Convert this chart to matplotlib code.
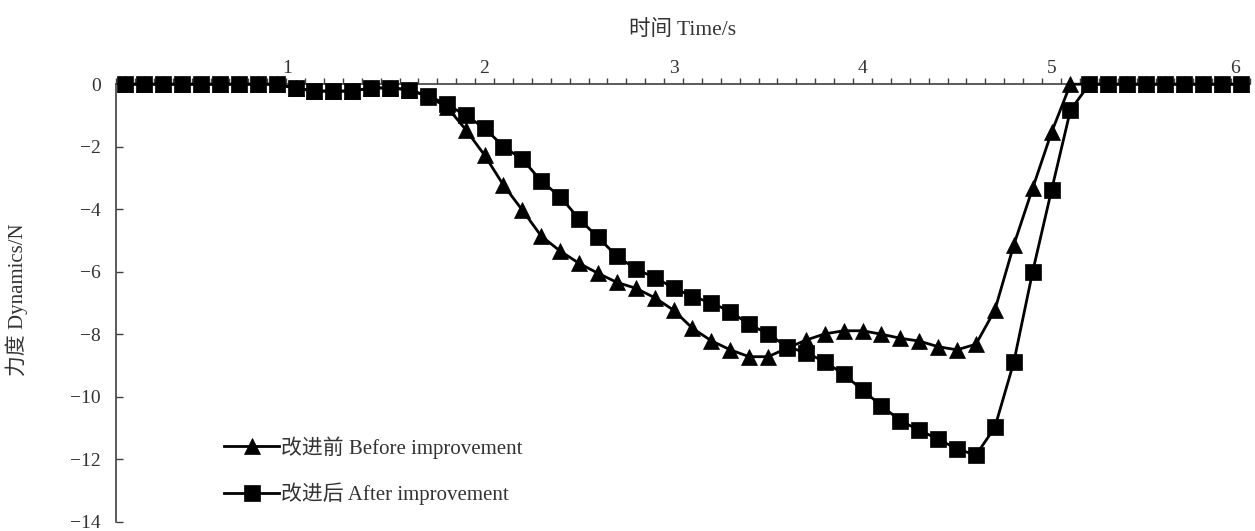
import matplotlib
matplotlib.use("Agg")
import matplotlib.pyplot as plt
import matplotlib.transforms as mtransforms
import numpy as np

# ---- data ----
time_s = [round(0.1 * k, 1) for k in range(1, 61)]  # 0.1 ... 6.0 s (category axis)

before = [0, 0, 0, 0, 0, 0, 0, 0, 0,
          -0.12, -0.22, -0.22, -0.22, -0.12, -0.12, -0.17, -0.4, -0.72, -1.45, -2.27,
          -3.23, -4.03, -4.86, -5.34, -5.73, -6.05, -6.34, -6.53, -6.83, -7.23,
          -7.81, -8.21, -8.5, -8.72, -8.72, -8.45, -8.19, -7.99, -7.89, -7.89,
          -8.0, -8.13, -8.22, -8.4, -8.5, -8.32, -7.23, -5.15, -3.33, -1.54,
          0, 0, 0, 0, 0, 0, 0, 0, 0, 0]

after = [0, 0, 0, 0, 0, 0, 0, 0, 0,
         -0.13, -0.22, -0.22, -0.22, -0.12, -0.12, -0.18, -0.37, -0.64, -1.0, -1.4,
         -2.0, -2.4, -3.1, -3.6, -4.31, -4.9, -5.5, -5.91, -6.19, -6.51,
         -6.8, -6.99, -7.28, -7.68, -7.99, -8.4, -8.59, -8.88, -9.28, -9.79,
         -10.29, -10.77, -11.07, -11.36, -11.67, -11.87, -10.98, -8.9, -6.0, -3.39,
         -0.83, 0, 0, 0, 0, 0, 0, 0, 0, 0]

x_tick_values = [1, 2, 3, 4, 5, 6]
x_tick_labels = ["1", "2", "3", "4", "5", "6"]
y_ticks = [0, -2, -4, -6, -8, -10, -12, -14]

label_before = "改进前 Before improvement"
label_after = "改进后 After improvement"
x_title = "时间 Time/s"
y_title = "力度 Dynamics/N"

# ---- style ----
FAM = ["Liberation Serif", "Noto Sans CJK SC", "DejaVu Sans"]
plt.rcParams["font.family"] = FAM
plt.rcParams["axes.unicode_minus"] = True
FS_TICK = 14
FS_TEXT = 15
AXC = "#404040"
TXC = "#333333"

fig = plt.figure(figsize=(12.55, 5.31), dpi=100)
ax = fig.add_axes([116 / 1255, 1 - 521.7 / 531, (1250 - 116) / 1255, (521.7 - 84.2) / 531])

ax.plot(time_s, before, color="black", lw=2, marker="^", ms=11.5, mew=0.5,
        clip_on=False, zorder=3, label=label_before)
ax.plot(time_s, after, color="black", lw=2, marker="s", ms=11.5, mew=0.5,
        clip_on=False, zorder=4, label=label_after)

ax.set_xlim(0.05, 6.05)
ax.set_ylim(-14, 0)

# spines
for s in ["right", "bottom"]:
    ax.spines[s].set_visible(False)
for s in ["top", "left"]:
    ax.spines[s].set_color(AXC)
    ax.spines[s].set_linewidth(1.2)

# x axis on top
ax.xaxis.tick_top()
ax.set_xticks(x_tick_values)
ax.set_xticklabels(x_tick_labels)
ax.set_xticks([0.05 + 0.1 * k for k in range(61)], minor=True)
ax.tick_params(axis="x", which="major", length=0, pad=5, labelsize=FS_TICK, colors=TXC)
ax.tick_params(axis="x", which="minor", direction="out", length=4.5, width=1, color=AXC)

# small horizontal offsets of first/last labels as in the reference
labs = ax.get_xticklabels()
shifts = {"1": -8, "6": -6}
for lab in labs:
    dx = shifts.get(lab.get_text(), 0)
    if dx:
        lab.set_transform(lab.get_transform() +
                          mtransforms.ScaledTranslation(dx / 100, 0, fig.dpi_scale_trans))

ax.set_yticks(y_ticks)
ax.yaxis.set_major_formatter(matplotlib.ticker.FuncFormatter(
    lambda v, p: f"{int(round(v))}".replace("-", "\u2212")))
ax.tick_params(axis="y", which="major", direction="in", length=5, width=1, color=AXC,
               pad=11, labelsize=FS_TICK, labelcolor=TXC)
ax.tick_params(axis="y", which="minor", left=False)

fig.text(683 / 1255, 1 - 30 / 531, x_title, ha="center", va="center", fontsize=FS_TEXT + 0.5, color=TXC)
fig.text(17 / 1255, 1 - 300 / 531, y_title, ha="center", va="center", rotation=90,
         fontsize=FS_TEXT, color=TXC)

leg = ax.legend(loc="upper left", bbox_to_anchor=(224 / 1255, 1 - 436 / 531),
                bbox_transform=fig.transFigure, frameon=False, fontsize=FS_TEXT,
                handlelength=2.65, handletextpad=0.1, labelspacing=1.15,
                borderpad=0, borderaxespad=0, numpoints=1, markerscale=0.95)
for t in leg.get_texts():
    t.set_color(TXC)

fig.savefig("out.png", dpi=100)
